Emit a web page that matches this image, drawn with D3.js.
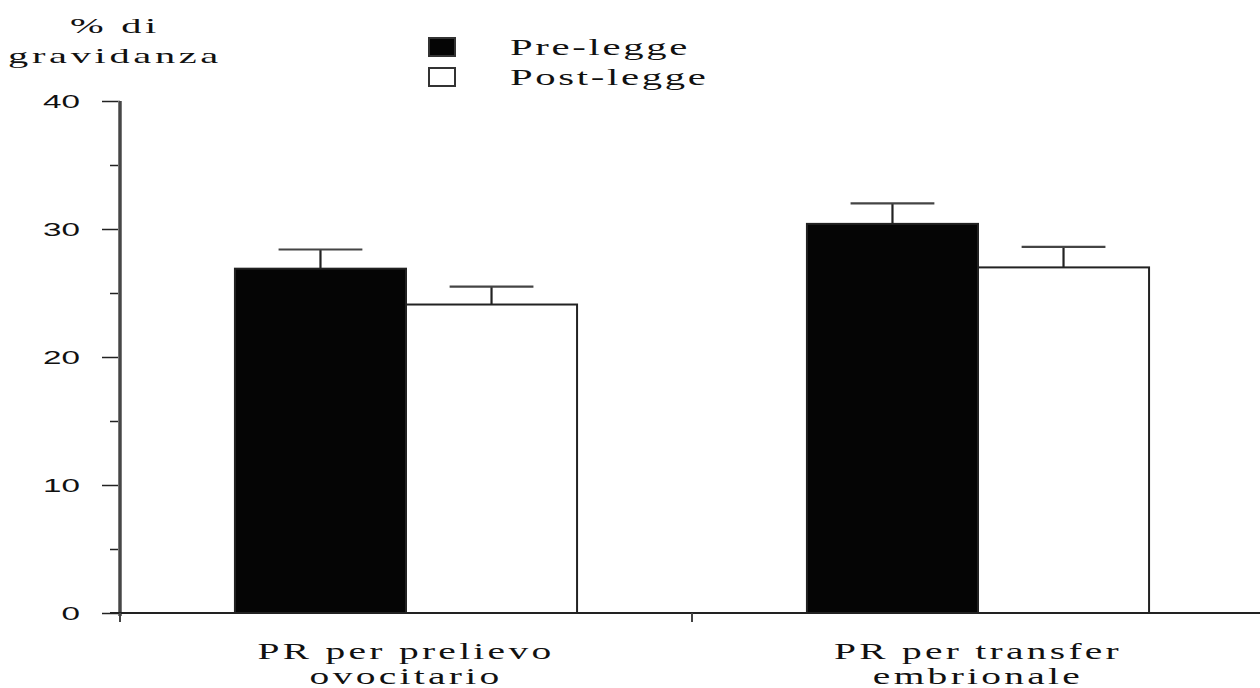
<!DOCTYPE html>
<html><head><meta charset="utf-8">
<script src="https://cdn.jsdelivr.net/npm/d3@7"></script>
<style>html,body{margin:0;padding:0;background:#fff;}svg{display:block;}</style>
</head><body>
<script>
const categories = [["PR per prelievo","ovocitario"],["PR per transfer","embrionale"]];
const categoryKeys = ["prelievo","transfer"];
const seriesNames = ["Pre-legge","Post-legge"];
const preValues = [26.9, 30.4];
const preErrors = [1.5, 1.6];
const postValues = [24.1, 27.0];
const postErrors = [1.4, 1.6];
const yTicks = [0,10,20,30,40];
const yMinorTicks = [5,15,25,35];
const yTitle = ["% di","gravidanza"];

const W = 1260, H = 688;
const svg = d3.select("body").append("svg").attr("width",W).attr("height",H);

const y = d3.scaleLinear().domain([0,40]).range([613,101]);
const x0 = d3.scaleBand().domain(categoryKeys).range([120,1264]).padding(0);
const x1 = d3.scaleBand().domain(seriesNames).range([0,x0.bandwidth()]).paddingInner(0).paddingOuter(0.672);

const fills = {"Pre-legge":"#050505","Post-legge":"#ffffff"};
const data = categoryKeys.map((k,i)=>({key:k, vals:[
  {s:"Pre-legge", v:preValues[i], e:preErrors[i]},
  {s:"Post-legge", v:postValues[i], e:postErrors[i]}]}));

function measure(str, family, size, ls){
  const t = svg.append("text").text(str).attr("font-family",family).attr("font-size",size);
  if(ls) t.attr("letter-spacing",ls);
  const w = t.node().getComputedTextLength(); t.remove(); return w;
}
function stext(g, x, yy, str, opts){
  const t = g.append("g").attr("transform",`translate(${x},${yy}) scale(${opts.sx||1},1)`)
    .append("text").attr("x",0).attr("y",0).text(str)
    .attr("font-family",opts.family).attr("font-size",opts.size)
    .attr("text-anchor",opts.anchor||"start").attr("fill","#111");
  if(opts.ls) t.attr("letter-spacing",opts.ls);
  return t;
}

// error bars (behind bars)
const groups = svg.append("g").selectAll("g").data(data).join("g")
  .attr("transform",d=>`translate(${x0(d.key)},0)`);
groups.selectAll("g.err").data(d=>d.vals).join("g").attr("class","err").each(function(d){
  const cx = x1(d.s)+x1.bandwidth()/2, g=d3.select(this);
  const cw = x1.bandwidth()*0.245;
  g.append("line").attr("x1",cx).attr("x2",cx).attr("y1",y(d.v)).attr("y2",y(d.v+d.e)).attr("stroke","#222").attr("stroke-width",2.2);
  g.append("line").attr("x1",cx-cw).attr("x2",cx+cw).attr("y1",y(d.v+d.e)).attr("y2",y(d.v+d.e)).attr("stroke","#444").attr("stroke-width",2.2);
});
groups.selectAll("rect").data(d=>d.vals).join("rect")
  .attr("x",d=>x1(d.s)).attr("width",x1.bandwidth())
  .attr("y",d=>y(d.v)).attr("height",d=>y(0)-y(d.v))
  .attr("fill",d=>fills[d.s]).attr("stroke","#222").attr("stroke-width",2);

// y axis ticks
const ya = svg.append("g").attr("transform","translate(120,0)")
  .call(d3.axisLeft(y).tickValues(yTicks).tickSize(18).tickFormat(""));
ya.select(".domain").remove();
ya.selectAll(".tick line").attr("stroke","#222").attr("stroke-width",1.5);
svg.append("g").attr("transform","translate(120,0)").call(d3.axisLeft(y).tickValues(yMinorTicks).tickSize(10).tickFormat(""))
  .call(g=>{g.select(".domain").remove(); g.selectAll(".tick line").attr("stroke","#222").attr("stroke-width",1.5);});
svg.append("line").attr("x1",120).attr("x2",120).attr("y1",y(40)).attr("y2",y(0)+3).attr("stroke","#777").attr("stroke-width",4);
svg.append("line").attr("x1",120).attr("x2",120).attr("y1",y(40)).attr("y2",y(0)+3).attr("stroke","#333").attr("stroke-width",1.4);
const tl = svg.append("g");
yTicks.forEach(t=>{
  stext(tl, 80, y(t)+7, String(t), {family:"Liberation Sans", size:19, sx:1.75, anchor:"end"});
});

// x axis
svg.append("line").attr("x1",110).attr("x2",W).attr("y1",y(0)).attr("y2",y(0)).attr("stroke","#222").attr("stroke-width",2);
[x0(categoryKeys[0]), x0(categoryKeys[1])].forEach(xx=>{
  svg.append("line").attr("x1",xx).attr("x2",xx).attr("y1",y(0)).attr("y2",y(0)+9).attr("stroke","#444").attr("stroke-width",2);
});

// category labels
const catFont = "Liberation Serif", catSize = 24, catLs = 2;
const catSx = 297 / measure(categories[0][0], catFont, catSize, catLs);
const cl = svg.append("g");
categories.forEach((lines,i)=>{
  const cx = x0(categoryKeys[i]) + x0.bandwidth()/2;
  lines.forEach((ln,j)=>{
    stext(cl, cx, 659 + j*25, ln, {family:catFont, size:catSize, sx:catSx, anchor:"middle", ls:catLs});
  });
});

// y title
const tFont = "Liberation Serif", tSize = 22, tLs = 2;
const tSx = 214 / measure(yTitle[1], tFont, tSize, tLs);
yTitle.forEach((ln,j)=>{
  stext(svg, 115, 33 + j*30, ln, {family:tFont, size:tSize, sx:tSx, anchor:"middle", ls:tLs});
});

// legend
const lFont = "Liberation Serif", lSize = 23;
const lSx = 180 / measure(seriesNames[0], lFont, lSize, 1.5);
const lg = svg.append("g");
seriesNames.forEach((s,i)=>{
  const yy = 38 + i*30;
  lg.append("rect").attr("x",429).attr("y",yy).attr("width",26).attr("height",18)
    .attr("fill",fills[s]).attr("stroke","#333").attr("stroke-width",2);
  stext(lg, 510, yy+17, s, {family:lFont, size:lSize, sx:lSx, ls:1.5});
});
</script>
</body></html>
